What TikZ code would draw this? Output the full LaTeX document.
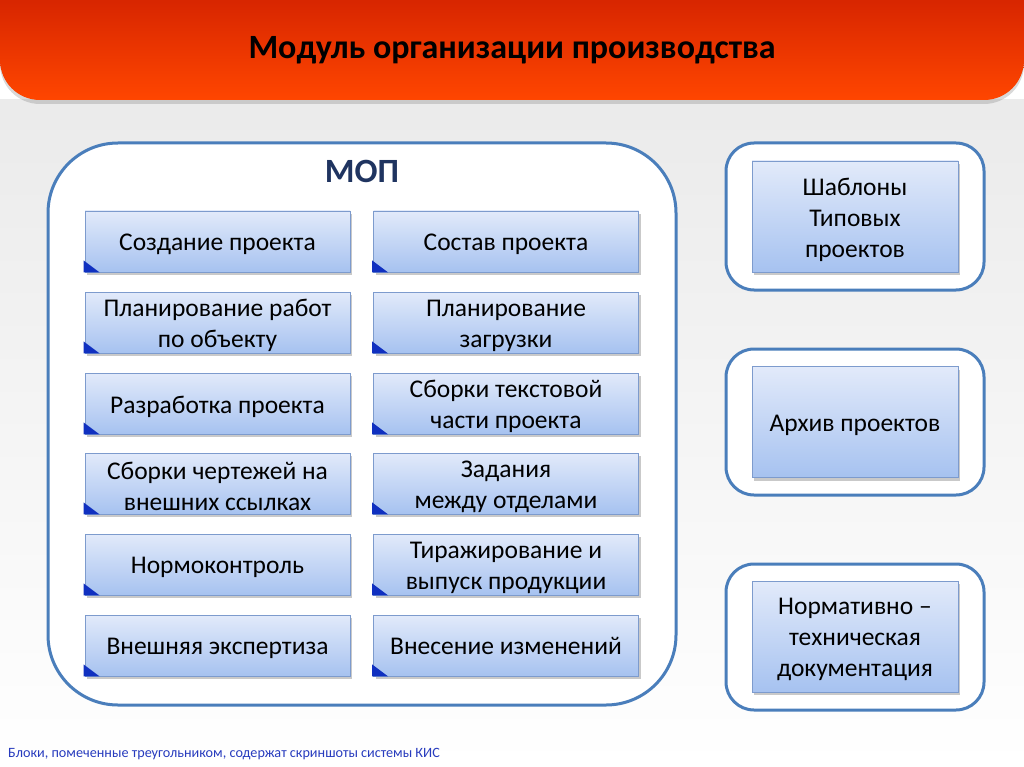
\documentclass[tikz,border=0pt]{standalone}
\usepackage{fontspec}
\setmainfont{Carlito}
\usetikzlibrary{shadows}
\definecolor{bordblue}{RGB}{74,126,187}
\definecolor{boxedge}{RGB}{125,155,205}
\definecolor{boxtop}{RGB}{226,234,250}
\definecolor{boxbot}{RGB}{166,194,240}
\definecolor{tricol}{RGB}{16,48,192}
\definecolor{navy}{RGB}{31,52,96}
\definecolor{foot}{RGB}{40,60,190}
\definecolor{redtop}{RGB}{192,18,0}
\definecolor{redbot}{RGB}{255,70,0}
\tikzset{
  mbox/.style={draw=boxedge, line width=0.8pt, top color=boxtop, bottom color=boxbot,
    minimum width=265pt, minimum height=61pt, inner sep=0pt,
    drop shadow={shadow xshift=2pt, shadow yshift=-3pt, opacity=0.35, fill=black!60}},
  rbox/.style={mbox, minimum width=206pt, minimum height=111pt},
  btext/.style={align=center, inner sep=0pt, font=\fontsize{25.5}{31}\selectfont},
  panel/.style={draw=bordblue, line width=3pt, fill=white, rounded corners=28pt},
  tri/.style={fill=tricol},
}
\begin{document}
\begin{tikzpicture}[x=1pt, y=-1pt]
\useasboundingbox (0,0) rectangle (1024,767);
% background
\shade[top color=black!8, bottom color=white] (0,100) rectangle (1024,767);
% title banner
\begin{scope}
\clip (0,0) rectangle (1024,767);
\shade[top color=redtop, bottom color=redbot, rounded corners=40pt,
  drop shadow={shadow xshift=0pt, shadow yshift=-4pt, opacity=0.3, fill=black!50}]
  (0,-60) rectangle (1024,100);
\end{scope}
\node[font=\fontsize{34}{40}\selectfont\bfseries] (title) at (512,50) {Модуль организации производства};
% MOP panel
\draw[panel, rounded corners=70pt] (48,143) rectangle (676,705);
\node[font=\fontsize{34}{40}\selectfont\bfseries, text=navy] (mop) at (362,171) {МОП};
% left column boxes
\node[mbox] (a1) at (217.5,241.5) {};
\node[mbox] (a2) at (217.5,322.5) {};
\node[mbox] (a3) at (217.5,403.5) {};
\node[mbox] (a4) at (217.5,483.5) {};
\node[mbox] (a5) at (217.5,564.5) {};
\node[mbox] (a6) at (217.5,645.5) {};
% right column boxes
\node[mbox] (b1) at (506,241.5) {};
\node[mbox] (b2) at (506,322.5) {};
\node[mbox] (b3) at (506,403.5) {};
\node[mbox] (b4) at (506,483.5) {};
\node[mbox] (b5) at (506,564.5) {};
\node[mbox] (b6) at (506,645.5) {};
\foreach \n in {a1,a2,a3,a4,a5,a6,b1,b2,b3,b4,b5,b6}{
  \fill[tri] ([xshift=-1pt]\n.south west) -- ++(16,0) -- ++(-16,-12) -- cycle;
}
% texts
\node[btext] (a1t) at ([yshift=-3pt]a1.center) {Создание проекта};
\node[btext] (a2t) at ([yshift=-3pt]a2.center) {Планирование работ\\по объекту};
\node[btext] (a3t) at ([yshift=-3pt]a3.center) {Разработка проекта};
\node[btext] (a4t) at ([yshift=-3pt]a4.center) {Сборки чертежей на\\внешних ссылках};
\node[btext] (a5t) at ([yshift=-3pt]a5.center) {Нормоконтроль};
\node[btext] (a6t) at ([yshift=-3pt]a6.center) {Внешняя экспертиза};
\node[btext] (b1t) at ([yshift=-3pt]b1.center) {Состав проекта};
\node[btext] (b2t) at ([yshift=-3pt]b2.center) {Планирование\\загрузки};
\node[btext] (b3t) at ([yshift=-3pt]b3.center) {Сборки текстовой\\части проекта};
\node[btext] (b4t) at ([yshift=-3pt]b4.center) {Задания\\между отделами};
\node[btext] (b5t) at ([yshift=-3pt]b5.center) {Тиражирование и\\выпуск продукции};
\node[btext, text depth=6pt] (b6t) at ([yshift=-3pt]b6.center) {Внесение изменений};
% right panels
\draw[panel] (726,143) rectangle (984,290);
\node[rbox] (s1) at (855,216.5) {};
\node[btext] (s1t) at ([yshift=-3pt]s1.center) {Шаблоны\\Типовых\\проектов};
\draw[panel] (726,349) rectangle (984,495);
\node[rbox] (s2) at (855,422) {};
\node[btext] (s2t) at ([yshift=-3pt]s2.center) {Архив проектов};
\draw[panel] (726,564) rectangle (984,710);
\node[rbox] (s3) at (855,636.5) {};
\node[btext] (s3t) at ([yshift=-3pt]s3.center) {Нормативно –\\техническая\\документация};
% footer
\node[anchor=west, text=foot, font=\fontsize{14.2}{17}\selectfont, inner sep=0pt] (note) at (8,754) {Блоки, помеченные треугольником, содержат скриншоты системы КИС};
\end{tikzpicture}
\end{document}
